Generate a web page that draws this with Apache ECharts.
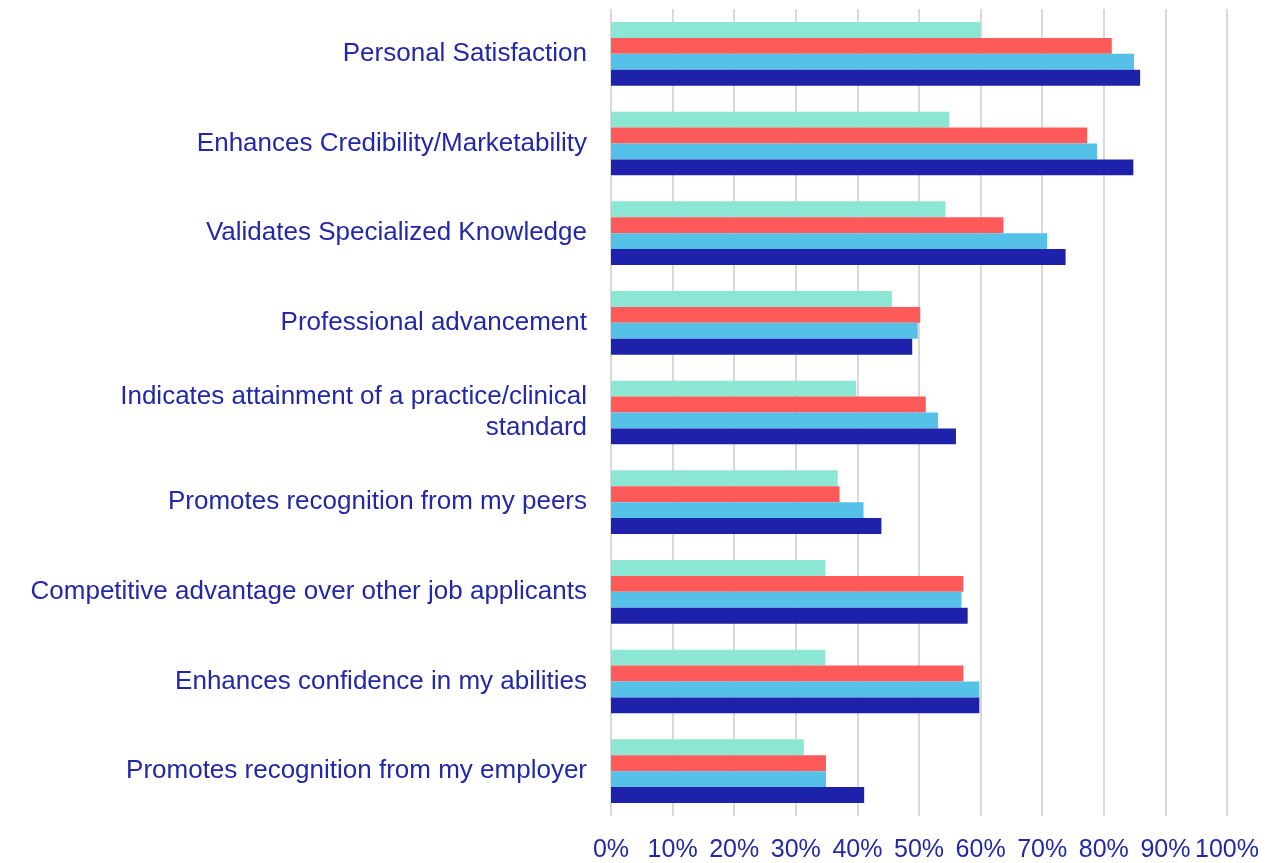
<!DOCTYPE html>
<html>
<head>
<meta charset="utf-8">
<script src="https://cdn.jsdelivr.net/npm/echarts@6/dist/echarts.min.js"></script>
<style>
  html, body { margin: 0; padding: 0; background: #fff; }
  #mydiv { width: 1281px; height: 863px; }
</style>
</head>
<body>
<div id="mydiv"></div>
<script>
// categories, top to bottom
var categories = [
    'Personal Satisfaction',
    'Enhances Credibility/Marketability',
    'Validates Specialized Knowledge',
    'Professional advancement',
    'Indicates attainment of a practice/clinical\nstandard',
    'Promotes recognition from my peers',
    'Competitive advantage over other job applicants',
    'Enhances confidence in my abilities',
    'Promotes recognition from my employer'
];

// four series, values in %
var teal  = [60.0, 54.9, 54.3, 45.6, 39.8, 36.8, 34.8, 34.8, 31.3];
var red   = [81.3, 77.3, 63.7, 50.2, 51.1, 37.1, 57.2, 57.2, 34.9];
var blue  = [84.9, 78.9, 70.8, 49.8, 53.1, 41.0, 56.9, 59.8, 34.9];
var navy  = [85.9, 84.8, 73.8, 48.9, 56.0, 43.9, 57.9, 59.8, 41.1];

var seriesNames = ['Series 4', 'Series 3', 'Series 2', 'Series 1'];
var seriesData = [teal, red, blue, navy];
var seriesColors = ['#8BE6D3', '#FF5A5A', '#55C0E8', '#1E22AA'];

var textColor = '#2228A8';
var fontName = "'Liberation Sans', Arial, sans-serif";

var echart = echarts.init(document.getElementById('mydiv'));

var series = [];
for (var i = 0; i < seriesData.length; i++) {
    series.push({
        name: seriesNames[i],
        type: 'bar',
        data: seriesData[i],
        barGap: '0%',
        barCategoryGap: '29%',
        itemStyle: { color: seriesColors[i] }
    });
}

var option = {
    animation: false,
    grid: { left: 611, right: 54, top: 9, bottom: 43, containLabel: false },
    xAxis: {
        type: 'value',
        min: 0,
        max: 100,
        interval: 10,
        axisLine: { show: false },
        axisTick: { show: false },
        splitLine: { show: true, lineStyle: { color: '#D9D9D9', width: 2 } },
        axisLabel: {
            formatter: '{value}%',
            color: textColor,
            fontFamily: fontName,
            fontSize: 25,
            margin: 22
        }
    },
    yAxis: {
        type: 'category',
        inverse: true,
        data: categories,
        axisLine: { show: false },
        axisTick: { show: false },
        axisLabel: {
            color: textColor,
            fontFamily: fontName,
            fontSize: 26,
            lineHeight: 31,
            margin: 24,
            align: 'right'
        }
    },
    series: series
};

echart.setOption(option);
</script>
</body>
</html>
